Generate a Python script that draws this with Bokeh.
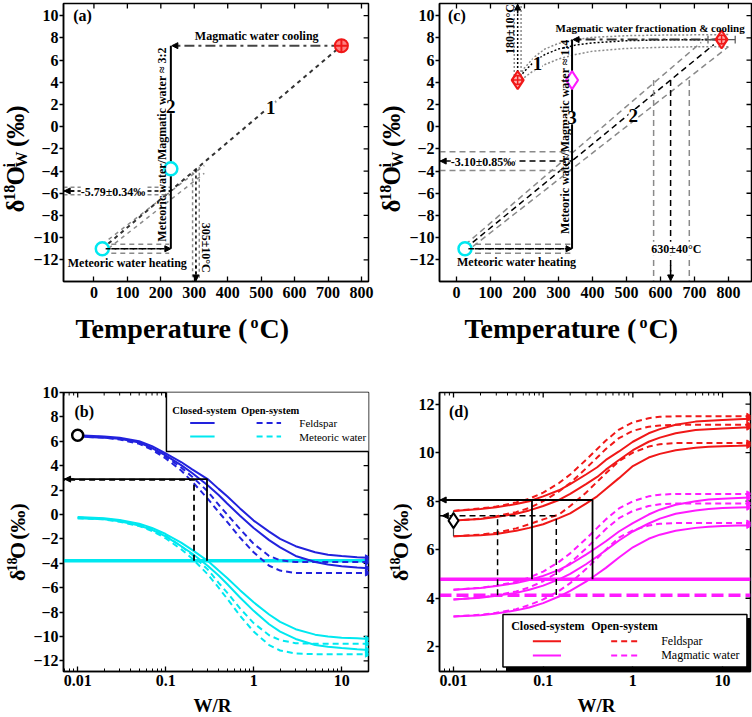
import math
from bokeh.plotting import figure
from bokeh.models import Range1d, FixedTicker, Label, Arrow, NormalHead
from bokeh.layouts import column, row
from bokeh.embed import file_html
from bokeh.resources import INLINE

SERIF = "Liberation Serif"
BLUE = "#2222dd"
CYAN = "#00e8f0"
RED = "#f01818"
MAGENTA = "#ff1aff"
GRAY = "#8a8a8a"

# ---------------- panel (a): meteoric + magmatic mixing ----------------
a_meteoric_T, a_meteoric_d = [25], [-11.0]
a_mixed_T, a_mixed_d = [230], [-3.8]
a_magmatic_T, a_magmatic_d = [740], [7.3]
a_path1_T = [25, 740]
a_path1_d = [-11.0, 7.3]
a_band_T = [25, 330]
a_band_hi = [-10.6, -3.5]
a_band_lo = [-11.4, -4.2]
a_shift_d = [-5.45, -5.79, -6.13]      # -5.79 ± 0.34 permil
a_equil_T = [295, 305, 315]            # 305 ± 10 degC
a_equil_top = [-4.1, -3.85, -3.6]
a_heat_d = [-10.6, -11.0, -11.4]

# ---------------- panel (c): fractionated magmatic water ----------------
c_meteoric_T, c_meteoric_d = [25], [-11.0]
c_magma_T, c_magma_d = [780, 180], [7.85, 4.2]
c_mixed_T, c_mixed_d = [340], [4.2]
c_magma_Terr = [740, 820]
c_magma_derr = [7.45, 8.25]
c_path2_T = [[25, 720], [25, 757], [25, 800]]
c_path2_d = [[-10.65, 7.6], [-11.0, 7.4], [-11.35, 7.2]]
c_shift_d = [-2.25, -3.10, -3.95]      # -3.10 ± 0.85 permil
c_equil_T = [580, 630, 685]            # 630 ± 40 degC
c_heat_d = [-10.6, -11.0, -11.4]
c_frac_T = [170, 180, 190]             # 180 ± 10 degC
c_path1_T = [
    [180, 200, 230, 260, 300, 350, 400, 500, 600, 800],
    [180, 200, 230, 260, 300, 350, 400, 500, 600, 780],
    [190, 220, 260, 300, 350, 400, 500, 600, 700, 800],
]
c_path1_d = [
    [4.3, 5.3, 6.3, 7.0, 7.5, 7.85, 8.05, 8.2, 8.25, 8.3],
    [4.2, 5.0, 5.9, 6.5, 7.0, 7.35, 7.55, 7.75, 7.82, 7.85],
    [4.2, 4.9, 5.6, 6.1, 6.5, 6.8, 7.05, 7.15, 7.2, 7.2],
]

# ---------------- W/R grid shared by the curves of (b) and (d) ----------------
wr = [0.01, 0.02, 0.03, 0.05, 0.07, 0.1, 0.15, 0.2, 0.3, 0.4, 0.5, 0.7,
      1, 1.5, 2, 3, 5, 7, 10, 15, 20]

# ---------------- panel (b): meteoric fluid ----------------
b_fsp_closed = [
    [6.5, 6.4, 6.3, 6.0, 5.6, 5.0, 4.3, 3.7, 2.9, 2.1, 1.5, 0.5,
     -0.5, -1.4, -2.0, -2.6, -3.1, -3.3, -3.4, -3.5, -3.55],
    [6.4, 6.3, 6.2, 5.9, 5.45, 4.85, 4.05, 3.4, 2.4, 1.6, 0.9, -0.1,
     -1.1, -2.1, -2.7, -3.4, -3.9, -4.1, -4.25, -4.35, -4.4],
]
b_fsp_open = [
    [6.45, 6.35, 6.2, 5.85, 5.4, 4.75, 3.85, 3.1, 1.9, 0.8, 0.0, -1.2,
     -2.4, -3.4, -3.75, -3.9, -3.9, -3.9, -3.9, -3.9, -3.9],
    [6.4, 6.3, 6.15, 5.8, 5.3, 4.6, 3.6, 2.7, 1.3, 0.2, -0.6, -1.9,
     -3.1, -4.2, -4.6, -4.8, -4.8, -4.8, -4.8, -4.8, -4.8],
]
b_wat_closed = [
    [-0.2, -0.3, -0.45, -0.75, -1.1, -1.6, -2.3, -2.9, -3.8, -4.6, -5.2, -6.2,
     -7.2, -8.2, -8.8, -9.4, -9.85, -10.0, -10.1, -10.15, -10.2],
    [-0.3, -0.4, -0.55, -0.9, -1.25, -1.8, -2.6, -3.2, -4.2, -5.0, -5.7, -6.8,
     -7.9, -9.0, -9.6, -10.2, -10.7, -10.85, -10.95, -11.05, -11.1],
]
b_wat_open = [
    [-0.25, -0.35, -0.5, -0.85, -1.2, -1.75, -2.6, -3.3, -4.5, -5.6, -6.4, -7.7,
     -8.9, -9.9, -10.3, -10.55, -10.6, -10.6, -10.6, -10.6, -10.6],
    [-0.3, -0.4, -0.6, -0.95, -1.35, -1.95, -2.85, -3.6, -4.9, -6.0, -6.9, -8.3,
     -9.6, -10.7, -11.15, -11.4, -11.45, -11.45, -11.45, -11.45, -11.45],
]
b_sample_wr, b_sample_d = [0.01], [6.5]
b_fluid_d = -3.8
b_hit_d = [2.9, 2.85]
b_hit_wr = [0.295, 0.21]

# ---------------- panel (d): magmatic fluid ----------------
d_fsp_closed = [
    [7.6, 7.68, 7.75, 7.88, 8.0, 8.2, 8.45, 8.7, 9.1, 9.4, 9.7, 10.05,
     10.45, 10.8, 10.97, 11.15, 11.28, 11.32, 11.35, 11.38, 11.4],
    [7.2, 7.27, 7.35, 7.48, 7.62, 7.8, 8.05, 8.3, 8.7, 9.0, 9.3, 9.7,
     10.1, 10.45, 10.62, 10.8, 10.93, 10.97, 11.0, 11.03, 11.05],
    [6.55, 6.6, 6.65, 6.78, 6.9, 7.05, 7.3, 7.5, 7.9, 8.2, 8.5, 8.95,
     9.45, 9.8, 9.95, 10.1, 10.2, 10.24, 10.26, 10.28, 10.3],
]
d_fsp_open = [
    [7.6, 7.7, 7.78, 7.95, 8.1, 8.35, 8.75, 9.1, 9.7, 10.15, 10.5, 10.95,
     11.25, 11.42, 11.48, 11.5, 11.5, 11.5, 11.5, 11.5, 11.5],
    [7.2, 7.28, 7.38, 7.55, 7.72, 8.0, 8.4, 8.75, 9.35, 9.8, 10.15, 10.6,
     10.9, 11.07, 11.12, 11.15, 11.15, 11.15, 11.15, 11.15, 11.15],
    [6.55, 6.62, 6.7, 6.88, 7.05, 7.25, 7.45, 7.8, 8.35, 8.8, 9.15, 9.65,
     10.0, 10.25, 10.35, 10.4, 10.4, 10.4, 10.4, 10.4, 10.4],
]
d_wat_closed = [
    [4.35, 4.42, 4.5, 4.63, 4.75, 4.92, 5.17, 5.4, 5.8, 6.1, 6.35, 6.75,
     7.1, 7.45, 7.65, 7.85, 8.0, 8.07, 8.1, 8.13, 8.15],
    [3.95, 4.02, 4.1, 4.22, 4.35, 4.52, 4.78, 5.0, 5.4, 5.72, 5.98, 6.38,
     6.75, 7.08, 7.28, 7.48, 7.62, 7.68, 7.72, 7.74, 7.75],
    [3.25, 3.3, 3.37, 3.5, 3.62, 3.8, 4.07, 4.3, 4.68, 5.0, 5.25, 5.68,
     6.1, 6.45, 6.62, 6.78, 6.9, 6.95, 6.98, 7.0, 7.0],
]
d_wat_open = [
    [4.35, 4.43, 4.52, 4.68, 4.85, 5.1, 5.5, 5.85, 6.45, 6.9, 7.25, 7.7,
     8.0, 8.2, 8.27, 8.3, 8.3, 8.3, 8.3, 8.3, 8.3],
    [3.95, 4.03, 4.12, 4.28, 4.45, 4.7, 5.1, 5.45, 6.05, 6.5, 6.85, 7.3,
     7.6, 7.8, 7.87, 7.9, 7.9, 7.9, 7.9, 7.9, 7.9],
    [3.25, 3.32, 3.4, 3.55, 3.72, 3.95, 4.3, 4.62, 5.2, 5.65, 6.0, 6.5,
     6.8, 7.0, 7.07, 7.1, 7.1, 7.1, 7.1, 7.1, 7.1],
]
d_sample_wr, d_sample_d = [0.01], [7.2]
d_sample_err = [6.55, 7.6]
d_fluid_d = [4.78, 4.12]
d_box_d = 8.05
d_box_wr = [0.075, 0.355]
d_dash_d = 7.4
d_dash_wr = [0.031, 0.14]

LOG_MAJOR = [0.01, 0.1, 1, 10]
LOG_MINOR = [0.007, 0.008, 0.009] + [k * 0.01 for k in range(2, 10)] + \
            [k * 0.1 for k in range(2, 10)] + list(range(2, 10)) + [20]
LOG_NAMES = {0.01: "0.01", 0.1: "0.1", 1: "1", 10: "10"}


def new_fig(xr, yr, w, h, borders, log=False):
    bl, br, bt, bb = borders
    p = figure(width=w, height=h, x_range=Range1d(*xr), y_range=Range1d(*yr),
               x_axis_type="log" if log else "linear",
               output_backend="svg", toolbar_location=None,
               min_border_left=bl, min_border_right=br,
               min_border_top=bt, min_border_bottom=bb)
    p.grid.visible = False
    p.outline_line_color = "black"
    p.outline_line_width = 1.5
    p.background_fill_color = "white"
    p.border_fill_color = "white"
    return p


def pixel_fig(w, h):
    # plain canvas whose data units are pixels, used for the axis titles
    p = figure(width=w, height=h, x_range=Range1d(0, w), y_range=Range1d(0, h),
               output_backend="svg", toolbar_location=None,
               x_axis_location=None, y_axis_location=None,
               min_border=0, min_border_left=0, min_border_right=0,
               min_border_top=0, min_border_bottom=0)
    p.grid.visible = False
    p.outline_line_color = None
    p.background_fill_color = "white"
    p.border_fill_color = "white"
    return p


def dress(p, xt, xm, yt, xr, yr, log=False, names=None, xstand=5):
    xa, ya = p.xaxis[0], p.yaxis[0]
    xa.ticker = FixedTicker(ticks=xt, minor_ticks=xm)
    ya.ticker = FixedTicker(ticks=yt, minor_ticks=[])
    if names:
        xa.major_label_overrides = names
    for ax in (xa, ya):
        ax.axis_line_color = "black"
        ax.axis_line_width = 1.5
        ax.major_tick_line_color = "black"
        ax.major_tick_line_width = 1.3
        ax.minor_tick_line_color = "black"
        ax.major_label_text_font = SERIF
        ax.major_label_text_font_style = "bold"
        ax.major_label_text_font_size = "16px"
        ax.major_label_text_color = "black"
    xa.major_tick_in, xa.major_tick_out = 5, 0
    xa.minor_tick_in, xa.minor_tick_out = 3, 0
    ya.major_tick_in, ya.major_tick_out = 0, 4
    xa.major_label_standoff = xstand
    ya.major_label_standoff = 1
    # inward ticks mirrored on the top and right edges of the frame
    h_px = p.height - p.min_border_top - p.min_border_bottom
    w_px = p.width - p.min_border_left - p.min_border_right
    dy = (yr[1] - yr[0]) / h_px
    p.segment(x0=xt, y0=[yr[1]] * len(xt), x1=xt, y1=[yr[1] - 5 * dy] * len(xt),
              line_color="black", line_width=1.3)
    if xm:
        p.segment(x0=xm, y0=[yr[1]] * len(xm), x1=xm, y1=[yr[1] - 3 * dy] * len(xm),
                  line_color="black", line_width=1)
    if log:
        x_in = xr[1] * 10 ** (-5 * math.log10(xr[1] / xr[0]) / w_px)
    else:
        x_in = xr[1] - 5 * (xr[1] - xr[0]) / w_px
    p.segment(x0=[xr[1]] * len(yt), y0=yt, x1=[x_in] * len(yt), y1=yt,
              line_color="black", line_width=1.3)


def text(p, x, y, s, size="12px", angle=0, align="center", base="middle",
         bold=True, bg=None):
    p.add_layout(Label(x=x, y=y, text=s, angle=angle,
                       text_align=align, text_baseline=base, text_font=SERIF,
                       text_font_size=size, text_color="black",
                       text_font_style="bold" if bold else "normal",
                       background_fill_color=bg))


def arrow(p, x0, y0, x1, y1, dash="solid", color="black", width=1.5, head=6):
    p.add_layout(Arrow(end=NormalHead(size=head, fill_color=color, line_color=color),
                       x_start=x0, y_start=y0, x_end=x1, y_end=y1,
                       line_color=color, line_width=width, line_dash=dash))


def curves(p, sets, color, dash, xmax):
    for ds in sets:
        p.line(wr, ds, line_color=color, line_width=2, line_dash=dash)
        p.scatter([xmax], [ds[-1]], marker="triangle", angle=-math.pi / 2, size=6,
                  fill_color=color, line_color=color)


def delta_title(w, h, xm, y0, with_iw, big="25px", small="16px", k=1.0):
    # rotated y-axis title: delta, superscript 18, O, (i over W), (permil)
    p = pixel_fig(w, h)
    r = math.pi / 2
    text(p, xm, y0, "\u03b4", big, r, "left")
    text(p, xm - 6 * k, y0 + 13 * k, "18", small, r, "left")
    text(p, xm, y0 + 30 * k, "O", big, r, "left")
    y = y0 + 50 * k
    if with_iw:
        text(p, xm - 6, y, "i", small, r, "left")
        text(p, xm + 6, y, "W", small, r, "left")
        y += 17
    text(p, xm, y + 6 * k, "(\u2030)", big, r, "left")
    return p


def temp_title(w, h, x0):
    p = pixel_fig(w, h)
    text(p, x0, 32, "Temperature (", "28px", align="left")
    text(p, x0 + 175, 38, "o", "16px", align="left")
    text(p, x0 + 184, 32, "C)", "28px", align="left")
    return p


def wr_title(w, h, xc):
    p = pixel_fig(w, h)
    text(p, xc, 12, "W/R", "19px")
    return p


# ======================= (a) =======================
XA, YA = (-91, 821), (-13.95, 11.1)
pa = new_fig(XA, YA, 346, 310, (26, 8, 3, 29))
dress(pa, list(range(0, 801, 100)), [], list(range(-12, 11, 2)), XA, YA)
pa.line(a_band_T, a_band_hi, line_color=GRAY, line_width=1.5, line_dash="4 4")
pa.line(a_band_T, a_band_lo, line_color=GRAY, line_width=1.5, line_dash="4 4")
pa.line(a_path1_T, a_path1_d, line_color="#333333", line_width=2, line_dash="4 4")
for d, c in zip(a_heat_d, [GRAY, "black", GRAY]):
    pa.line([a_meteoric_T[0], a_mixed_T[0] - 5], [d, d], line_color=c, line_width=1.5, line_dash="5 4")
arrow(pa, a_meteoric_T[0] + 10, a_heat_d[1], a_mixed_T[0], a_heat_d[1], "5 4")
for d, c in zip(a_shift_d, [GRAY, "black", GRAY]):
    pa.line([XA[0], a_mixed_T[0]], [d, d], line_color=c, line_width=1.5, line_dash="4 3")
arrow(pa, -60, a_shift_d[1], -89, a_shift_d[1], "4 3")
for t, top, c in zip(a_equil_T, a_equil_top, [GRAY, "black", GRAY]):
    pa.line([t, t], [top, YA[0]], line_color=c, line_width=1.5, line_dash="3 3")
arrow(pa, a_equil_T[1], -12.5, a_equil_T[1], -13.9, "3 3")
pa.line([a_magmatic_T[0], a_mixed_T[0] + 8], [a_magmatic_d[0]] * 2,
        line_color="#444444", line_width=2, line_dash="10 4 3 4")
arrow(pa, a_mixed_T[0] + 20, a_magmatic_d[0], a_mixed_T[0] + 3, a_magmatic_d[0])
pa.line([a_mixed_T[0], a_mixed_T[0]], [a_meteoric_d[0], a_magmatic_d[0]], line_color="black", line_width=2)
pa.scatter(a_meteoric_T + a_mixed_T, a_meteoric_d + a_mixed_d, marker="circle", size=13,
           fill_color="white", line_color=CYAN, line_width=2.5)
pa.scatter(a_magmatic_T, a_magmatic_d, marker="circle_cross", size=13, fill_color="#ff8080",
           line_color=RED, line_width=2)
text(pa, -62, 10.0, "(a)", "16px", align="left")
text(pa, 487, 8.2, "Magmatic water cooling")
text(pa, 100, -12.25, "Meteoric water heating")
text(pa, 57, -5.85, "-5.79\u00b10.34\u2030", "12px", bg="white")
text(pa, 203, -1.6, "Meteoric water/Magmatic water \u2248 3:2", "12px", angle=math.pi / 2)
text(pa, 334, -10.9, "305\u00b110\u00b0C", "12px", angle=-math.pi / 2)
text(pa, 230, 1.8, "2", "19px", bg="white")
text(pa, 529, 1.7, "1", "19px", bg="white")

# ======================= (c) =======================
XC, YC = (-50, 868), (-13.95, 11.1)
pc = new_fig(XC, YC, 346, 310, (33, 1, 3, 29))
dress(pc, list(range(0, 801, 100)), [], list(range(-12, 11, 2)), XC, YC)
for Ts, ds, c in zip(c_path2_T, c_path2_d, [GRAY, "black", GRAY]):
    pc.line(Ts, ds, line_color=c, line_width=1.5, line_dash="6 4")
for d, c in zip(c_shift_d, [GRAY, "black", GRAY]):
    pc.line([XC[0], c_mixed_T[0]], [d, d], line_color=c, line_width=1.5, line_dash="6 4")
arrow(pc, -20, c_shift_d[1], -48, c_shift_d[1], "6 4")
for t, c in zip(c_equil_T, [GRAY, "black", GRAY]):
    pc.line([t, t], [c_mixed_d[0], YC[0]], line_color=c, line_width=1.5, line_dash="6 4")
arrow(pc, c_equil_T[1], -12.5, c_equil_T[1], -13.9, "6 4")
for d, c in zip(c_heat_d, [GRAY, "black", GRAY]):
    pc.line([c_meteoric_T[0], c_mixed_T[0] - 5], [d, d], line_color=c, line_width=1.5, line_dash="6 4")
arrow(pc, c_meteoric_T[0] + 10, c_heat_d[1], c_mixed_T[0], c_heat_d[1], "6 4")
for Ts, ds, c in zip(c_path1_T, c_path1_d, [GRAY, "black", GRAY]):
    pc.line(Ts, ds, line_color=c, line_width=1.5, line_dash="2 2")
for t, c in zip(c_frac_T, [GRAY, "black", GRAY]):
    pc.line([t, t], [c_magma_d[1], YC[1]], line_color=c, line_width=1.5, line_dash="2 2")
arrow(pc, c_frac_T[1], 10.2, c_frac_T[1], 11.05, "2 2")
pc.line([c_magma_T[0], c_mixed_T[0] + 8], [c_magma_d[0]] * 2, line_color="#333333",
        line_width=2, line_dash="10 4 3 4")
arrow(pc, c_mixed_T[0] + 25, c_magma_d[0], c_mixed_T[0] + 3, c_magma_d[0])
pc.line([c_mixed_T[0], c_mixed_T[0]], [c_meteoric_d[0], c_magma_d[0]], line_color="black", line_width=2)
pc.segment(c_magma_Terr[0], c_magma_d[0], c_magma_Terr[1], c_magma_d[0], line_color="#555555", line_width=1.2)
pc.segment(c_magma_Terr, [c_magma_d[0] - 0.35] * 2, c_magma_Terr, [c_magma_d[0] + 0.35] * 2,
           line_color="#555555", line_width=1.2)
pc.segment(c_magma_T[0], c_magma_derr[0], c_magma_T[0], c_magma_derr[1], line_color="#555555", line_width=1.2)
pc.scatter(c_meteoric_T, c_meteoric_d, marker="circle", size=13, fill_color="white",
           line_color=CYAN, line_width=2.5)
pc.scatter(c_mixed_T, c_mixed_d, marker="diamond", size=18, fill_color="white",
           line_color=MAGENTA, line_width=2)
pc.scatter(c_magma_T, c_magma_d, marker="diamond", size=18, fill_color="#ffb0b0",
           line_color=RED, line_width=2)
pc.scatter(c_magma_T, c_magma_d, marker="circle_cross", size=9, fill_color=None,
           line_color=RED, line_width=1.5)
text(pc, -25, 10.0, "(c)", "16px", align="left")
text(pc, 570, 8.86, "Magmatic water fractionation & cooling", "11px")
text(pc, 177, -12.2, "Meteoric water heating")
text(pc, 78, -3.15, "-3.10\u00b10.85\u2030", "12px", bg="white")
text(pc, 647, -11.0, "630\u00b140\u00b0C", "12px", bg="white")
text(pc, 157, 8.8, "180\u00b110\u00b0C", "12px", angle=math.pi / 2)
text(pc, 319, -0.9, "Meteoric water/Magmatic water \u2248 1:4", "12px", angle=math.pi / 2)
text(pc, 340, 0.8, "3", "19px", bg="white")
text(pc, 520, 1.0, "2", "19px", bg="white")
text(pc, 238, 5.65, "1", "19px", bg="white")

# ======================= (b) =======================
XB, YB = (0.0069, 20.2), (-12.87, 10)
pb = new_fig(XB, YB, 346, 333, (26, 8, 32, 22), log=True)
dress(pb, LOG_MAJOR, LOG_MINOR, list(range(-12, 11, 2)), XB, YB, log=True,
      names=LOG_NAMES, xstand=3)
pb.line([XB[0], XB[1]], [b_fluid_d] * 2, line_color=CYAN, line_width=3.5)
curves(pb, b_fsp_closed, BLUE, "solid", 19.5)
curves(pb, b_fsp_open, BLUE, "6 4", 19.5)
curves(pb, b_wat_closed, CYAN, "solid", 19.5)
curves(pb, b_wat_open, CYAN, "6 4", 19.5)
pb.line([XB[0], b_hit_wr[0], b_hit_wr[0]], [b_hit_d[0], b_hit_d[0], b_fluid_d],
        line_color="black", line_width=1.8)
pb.line([b_hit_wr[1], b_hit_wr[1], XB[0]], [b_fluid_d, b_hit_d[1], b_hit_d[1]],
        line_color="black", line_width=1.8, line_dash="6 4")
arrow(pb, 0.009, b_hit_d[0], 0.0071, b_hit_d[0])
pb.scatter(b_sample_wr, b_sample_d, marker="circle", size=11, fill_color="white",
           line_color="black", line_width=2.5)
pb.quad(left=[0.102], right=[30], bottom=[5.16], top=[11], fill_color="white",
        line_color="black", line_width=1.5)
pb.line([0.19, 0.36], [7.49, 7.49], line_color=BLUE, line_width=2)
pb.line([1.08, 2.05], [7.49, 7.49], line_color=BLUE, line_width=2, line_dash="6 4")
pb.line([0.19, 0.36], [6.39, 6.39], line_color=CYAN, line_width=2)
pb.line([1.08, 2.05], [6.39, 6.39], line_color=CYAN, line_width=2, line_dash="6 4")
text(pb, 0.119, 8.5, "Closed-system", "10.5px", align="left")
text(pb, 0.718, 8.5, "Open-system", "10.5px", align="left")
text(pb, 3.3, 7.49, "Feldspar", "11px", align="left", bold=False)
text(pb, 3.3, 6.39, "Meteoric water", "11px", align="left", bold=False)
text(pb, 0.0092, 8.42, "(b)", "16px", align="left")

# ======================= (d) =======================
XD, YD = (0.00698, 20.5), (0.98, 12.48)
pd_ = new_fig(XD, YD, 340, 333, (27, 2, 32, 22), log=True)
dress(pd_, LOG_MAJOR, LOG_MINOR, list(range(2, 13, 2)), XD, YD, log=True,
      names=LOG_NAMES, xstand=3)
pd_.line([XD[0], XD[1]], [d_fluid_d[0]] * 2, line_color=MAGENTA, line_width=3.5)
pd_.line([XD[0], XD[1]], [d_fluid_d[1]] * 2, line_color=MAGENTA, line_width=3.5, line_dash="12 5")
curves(pd_, d_fsp_closed, RED, "solid", 19.5)
curves(pd_, d_fsp_open, RED, "6 4", 19.5)
curves(pd_, d_wat_closed, MAGENTA, "solid", 19.5)
curves(pd_, d_wat_open, MAGENTA, "6 4", 19.5)
pd_.line([XD[0], d_box_wr[1], d_box_wr[1]], [d_box_d, d_box_d, d_fluid_d[0]],
         line_color="black", line_width=1.8)
pd_.line([d_box_wr[0], d_box_wr[0]], [d_fluid_d[0], d_box_d], line_color="black", line_width=1.8)
pd_.line([XD[0], d_dash_wr[1], d_dash_wr[1]], [d_dash_d, d_dash_d, d_fluid_d[1]],
         line_color="black", line_width=1.5, line_dash="6 4")
pd_.line([d_dash_wr[0], d_dash_wr[0]], [d_fluid_d[1], d_dash_d], line_color="black",
         line_width=1.5, line_dash="6 4")
arrow(pd_, 0.009, d_box_d, 0.0071, d_box_d)
arrow(pd_, 0.0085, d_dash_d, 0.0075, d_dash_d)
pd_.segment(d_sample_wr, [d_sample_err[0]], d_sample_wr, [d_sample_err[1]], line_color="#444444", line_width=1.2)
pd_.scatter(d_sample_wr, d_sample_d, marker="diamond", size=15, fill_color="white",
            line_color="black", line_width=2)
pd_.quad(left=[0.0385, 18.7], right=[30, 30], bottom=[0.5, 0.5], top=[1.17, 3.19],
         fill_color="black", line_color=None)
pd_.quad(left=[0.0356], right=[18.7], bottom=[1.17], top=[3.33], fill_color="white",
         line_color="black", line_width=1.5)
pd_.line([0.0767, 0.158], [2.23, 2.23], line_color=RED, line_width=2)
pd_.line([0.573, 1.175], [2.23, 2.23], line_color=RED, line_width=2, line_dash="6 4")
pd_.line([0.0767, 0.158], [1.64, 1.64], line_color=MAGENTA, line_width=2)
pd_.line([0.573, 1.175], [1.64, 1.64], line_color=MAGENTA, line_width=2, line_dash="6 4")
text(pd_, 0.044, 2.85, "Closed-system", "12px", align="left")
text(pd_, 0.343, 2.85, "Open-system", "12px", align="left")
text(pd_, 2.07, 2.23, "Feldspar", "12px", align="left", bold=False)
text(pd_, 2.07, 1.64, "Magmatic water", "12px", align="left", bold=False)
text(pd_, 0.0089, 11.7, "(d)", "16px", align="left")

# ---------------- axis titles and layout ----------------
cell_a = column(row(delta_title(30, 310, 15, 77, True), pa), temp_title(376, 50, 75))
cell_c = column(row(delta_title(30, 310, 15, 77, True), pc), temp_title(376, 50, 88))
cell_b = column(row(delta_title(30, 333, 17, 108, False, "22px", "14px", 0.88), pb),
                wr_title(376, 24, 212))
cell_d = column(row(delta_title(36, 333, 24, 108, False, "22px", "14px", 0.88), pd_),
                wr_title(376, 24, 220))

layout = column(row(cell_a, cell_c), row(cell_b, cell_d))
open("out.html", "w").write(file_html(layout, INLINE))
